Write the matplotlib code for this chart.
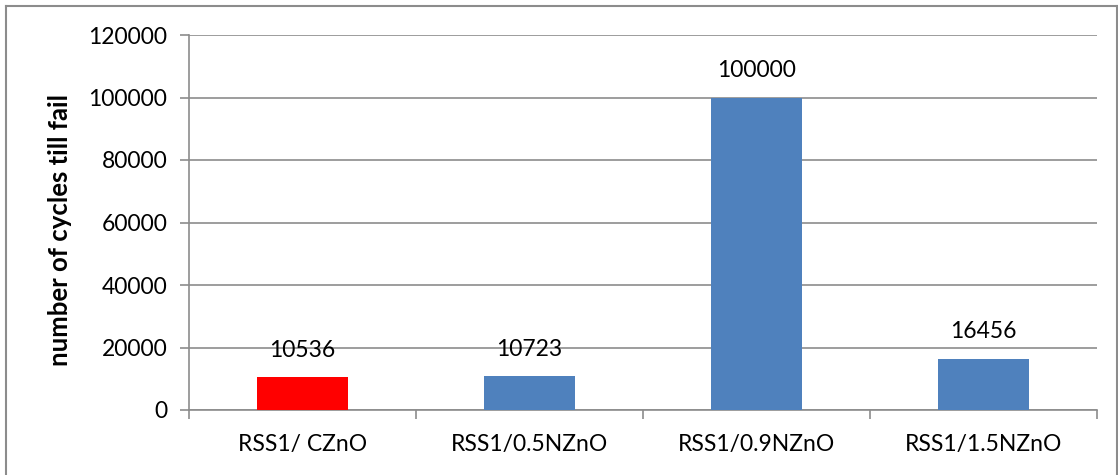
import matplotlib.pyplot as plt
import matplotlib.lines as mlines
import numpy as np

categories = ['RSS1/ CZnO', 'RSS1/0.5NZnO', 'RSS1/0.9NZnO', 'RSS1/1.5NZnO']
cycles = [10536, 10723, 100000, 16456]
colors = ['#FF0000', '#4F81BD', '#4F81BD', '#4F81BD']

plt.rcParams['font.family'] = ['Lato', 'DejaVu Sans']

W, H = 1118, 475
fig = plt.figure(figsize=(W / 100, H / 100), dpi=100)
ax = fig.add_axes([189 / W, 1 - 410 / H, (1097 - 189) / W, (410 - 35) / H])

x = np.arange(len(categories))
ax.bar(x, cycles, width=0.4, color=colors, zorder=3)
for xi, v in zip(x, cycles):
    ax.annotate(str(v), (xi, v), xytext=(0, 14.5), textcoords='offset points',
                ha='center', va='baseline', fontsize=16.5)

ax.set_xlim(-0.5, len(categories) - 0.5)
ax.set_ylim(0, 120000)
ax.set_yticks(np.arange(0, 120001, 20000))
ax.yaxis.grid(True, color='#8C8C8C', linewidth=1.2, zorder=0)
ax.set_xticks(x)
ax.set_xticklabels(categories, fontsize=16.5)
ax.set_xticks(np.arange(-0.5, len(categories), 1), minor=True)
ax.tick_params(axis='x', which='major', length=0, pad=17)
ax.tick_params(axis='x', which='minor', length=6.5, color='#8C8C8C', width=1.2)
ax.tick_params(axis='y', length=6.5, color='#8C8C8C', width=1.2, labelsize=16.5, pad=9)
for s in ['top', 'right']:
    ax.spines[s].set_visible(False)
for s in ['left', 'bottom']:
    ax.spines[s].set_color('#8C8C8C')
    ax.spines[s].set_linewidth(1.2)
ax.set_ylabel('number of cycles till fail', fontsize=18.5, fontweight='bold')
ax.yaxis.set_label_coords((72 - 189) / 908, 0.48)

# outer frame
fx0, fx1, fy = 5.5 / W, 1116.5 / W, 1 - 5.5 / H
for xs, ys in [([fx0, fx0], [-0.1, fy]), ([fx0, fx1], [fy, fy]), ([fx1, fx1], [fy, -0.1])]:
    fig.add_artist(mlines.Line2D(xs, ys, color='#8C8C8C', linewidth=1.5))

fig.savefig('out.png', dpi=100)
